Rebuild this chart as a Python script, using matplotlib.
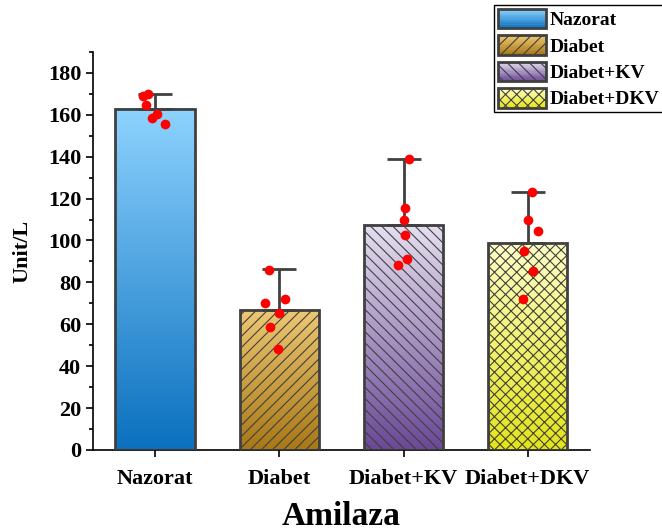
import numpy as np
import matplotlib
matplotlib.use("Agg")
import matplotlib.pyplot as plt
from matplotlib.colors import LinearSegmentedColormap
from matplotlib.patches import Rectangle, Patch
from matplotlib.legend_handler import HandlerBase
from matplotlib.ticker import MultipleLocator

plt.rcParams['font.family'] = ['Liberation Serif', 'DejaVu Serif']
plt.rcParams['font.weight'] = 'bold'
plt.rcParams['hatch.linewidth'] = 0.8

groups = ['Nazorat', 'Diabet', 'Diabet+KV', 'Diabet+DKV']
means = [163, 67, 107.6, 98.6]
sds = [7, 19.2, 31.4, 24.7]
points = [
    [169.0, 170.1, 164.6, 158.4, 160.3, 155.6],
    [86.0, 70.1, 72.0, 65.4, 58.7, 48.4],
    [139.0, 115.6, 110.0, 102.4, 91.3, 88.4],
    [123.0, 110.0, 104.3, 95.2, 85.4, 71.9],
]
jitter = [
    [-0.10, -0.054, -0.07, -0.027, 0.013, 0.08],
    [-0.08, -0.115, 0.046, 0.0, -0.073, -0.014],
    [0.043, 0.008, 0.0, 0.008, 0.03, -0.046],
    [0.032, 0.003, 0.08, -0.027, 0.04, -0.035],
]
tops = ['#8ED3FF', '#EEC874', '#E6E0F0', '#FFFFC8']
bottoms = ['#0A70BE', '#A87816', '#6A4896', '#E4E414']
hatches = ['', '///', '\\\\\\', 'xxx']

edge = '#404040'
width = 0.64


class GradientHandler(HandlerBase):
    def __init__(self, top, bottom, hatch):
        super().__init__()
        self.cmap = LinearSegmentedColormap.from_list('g', [bottom, top])
        self.hatch = hatch

    def create_artists(self, legend, orig_handle, xdescent, ydescent,
                       width, height, fontsize, trans):
        arts = []
        n = 16
        for i in range(n):
            arts.append(Rectangle((-xdescent, -ydescent + height * i / n), width,
                                  height / n + 0.2, fc=self.cmap((i + 0.5) / n),
                                  ec='none', transform=trans))
        arts.append(Rectangle((-xdescent, -ydescent), width, height, fc='none',
                              ec=edge, lw=2, hatch=self.hatch, transform=trans))
        return arts


fig = plt.figure(figsize=(6.62, 5.30), dpi=100)
ax = fig.add_axes([0.1405, 0.151, 0.7505, 0.751])

x = np.arange(len(groups))
for i in range(len(groups)):
    cmap = LinearSegmentedColormap.from_list('g%d' % i, [bottoms[i], tops[i]])
    grad = np.linspace(0, 1, 256).reshape(-1, 1)
    ax.imshow(grad, extent=[x[i] - width / 2, x[i] + width / 2, 0, means[i]],
              origin='lower', aspect='auto', cmap=cmap, zorder=2)
    ax.bar(x[i], means[i], width, color='none', edgecolor=edge, lw=2,
           hatch=hatches[i], zorder=3)

ax.errorbar(x, means, yerr=[np.zeros(4), sds], fmt='none', ecolor=edge,
            elinewidth=2, capsize=12.5, capthick=2, zorder=2.5)

for i in range(len(groups)):
    ax.plot(x[i] + np.array(jitter[i]), points[i], 'o', color='red',
            markersize=7, markeredgewidth=0, zorder=5)

ax.set_xlim(-0.5, 3.5)
ax.set_ylim(0, 190)
ax.set_xticks(x)
ax.set_xticklabels(groups, fontsize=16, fontweight='bold')
ax.yaxis.set_major_locator(MultipleLocator(20))
ax.yaxis.set_minor_locator(MultipleLocator(10))
for lab in ax.get_yticklabels():
    lab.set_fontsize(16)
    lab.set_fontweight('bold')
ax.tick_params(axis='both', which='major', direction='out', length=5, width=1.2, color='black')
ax.tick_params(axis='y', which='minor', direction='out', length=3, width=1.2)
ax.tick_params(axis='x', pad=9)
ax.spines['top'].set_visible(False)
ax.spines['right'].set_visible(False)
ax.spines['left'].set_linewidth(1.2)
ax.spines['bottom'].set_linewidth(1.2)

ax.set_ylabel('Unit/L', fontsize=16, fontweight='bold', labelpad=11)
ax.set_xlabel('Amilaza', fontsize=24, fontweight='bold', labelpad=8)

handles = [Patch(label=g) for g in groups]
hmap = {h: GradientHandler(tops[i], bottoms[i], hatches[i]) for i, h in enumerate(handles)}
leg = fig.legend(handles=handles, handler_map=hmap, loc='upper left',
                 bbox_to_anchor=(494 / 662, 1 - 5 / 530),
                 prop={'weight': 'bold', 'size': 14},
                 handlelength=2.45, handleheight=1.15, labelspacing=0.32,
                 handletextpad=0.2, borderpad=0.2, borderaxespad=0,
                 fancybox=False, framealpha=1, edgecolor='black')
leg.get_frame().set_linewidth(1.0)

fig.savefig('out.png', dpi=100)
